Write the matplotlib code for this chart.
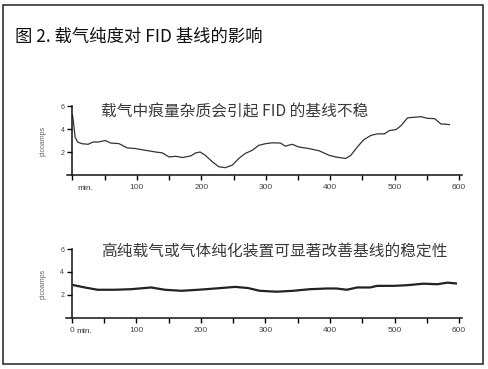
import matplotlib
matplotlib.use("Agg")
import matplotlib.pyplot as plt
from matplotlib.patches import Rectangle

plt.rcParams['font.family'] = ['Noto Sans CJK SC', 'DejaVu Sans']

title = "图 2. 载气纯度对 FID 基线的影响"
note_top = "载气中痕量杂质会引起 FID 的基线不稳"
note_bottom = "高纯载气或气体纯化装置可显著改善基线的稳定性"
y_label = "picoamps"

# top trace: impure carrier gas (min, picoamps)
top_min = [0, 1.5, 4, 8, 14, 24, 32, 40, 51, 59, 72, 85, 98, 113, 129, 139, 150, 160,
           171, 184, 191, 198, 206, 217, 227, 237, 248, 258, 268, 279, 289, 300, 310,
           323, 330, 341, 351, 367, 383, 398, 408, 414, 424, 432, 442, 452, 463, 473,
           484, 492, 502, 510, 520, 530, 541, 551, 562, 572, 577, 585]
top_pa = [5.2, 4.6, 3.3, 2.87, 2.73, 2.67, 2.87, 2.87, 3.0, 2.78, 2.73, 2.36, 2.3, 2.15,
          2.0, 1.93, 1.57, 1.63, 1.52, 1.67, 1.92, 2.0, 1.72, 1.15, 0.72, 0.64, 0.86,
          1.44, 1.87, 2.15, 2.58, 2.73, 2.8, 2.78, 2.51, 2.67, 2.44, 2.3, 2.1, 1.72,
          1.57, 1.52, 1.44, 1.72, 2.44, 3.07, 3.44, 3.58, 3.58, 3.87, 3.95, 4.3, 4.97,
          5.02, 5.07, 4.93, 4.9, 4.43, 4.43, 4.38]

# bottom trace: high purity carrier gas
bot_min = [3, 20, 40, 66, 92, 123, 144, 170, 196, 222, 253, 273, 291, 317, 343, 369,
           395, 410, 426, 442, 462, 473, 499, 520, 545, 566, 582, 595]
bot_pa = [2.85, 2.65, 2.45, 2.45, 2.5, 2.65, 2.45, 2.36, 2.45, 2.56, 2.7, 2.6, 2.36,
          2.28, 2.36, 2.5, 2.56, 2.56, 2.45, 2.65, 2.65, 2.79, 2.79, 2.85, 2.98, 2.93,
          3.07, 3.0]

x_ticks = list(range(0, 601, 50))
y_ticks = [2, 4, 6]

fig = plt.figure(figsize=(4.89, 3.69), dpi=100)
fig.patch.set_facecolor('white')

small = ['Liberation Sans Narrow', 'Liberation Sans', 'DejaVu Sans']


def setup(ax, show_zero):
    ax.set_xlim(-9, 604)
    ax.set_ylim(0, 6)
    for s in ['top', 'right']:
        ax.spines[s].set_visible(False)
    ax.spines['left'].set_position(('data', 0))
    ax.spines['left'].set_bounds(0, 6)
    for s in ['left', 'bottom']:
        ax.spines[s].set_linewidth(1.1)
        ax.spines[s].set_color('#111111')
    ax.set_xticks(x_ticks)
    labels = []
    for t in x_ticks:
        if t % 100 == 0 and (t > 0 or show_zero):
            labels.append(str(t))
        else:
            labels.append('')
    ax.set_xticklabels(labels, fontsize=6, color='#444444', family=small)
    ax.set_yticks(y_ticks)
    ax.set_yticklabels([str(v) for v in y_ticks], fontsize=5, color='#444444', family=small)
    ax.tick_params(axis='x', direction='out', length=3.5, width=1.0, pad=3)
    ax.tick_params(axis='y', direction='out', length=3.5, width=1.0, pad=2)
    ax.text(20, -0.85, "min.", fontsize=6, color='#333333', family=small,
            ha='center', va='top')
    ax.text(-45, 3, y_label, rotation=90, fontsize=5, color='#666666', family=small,
            ha='center', va='center')
    ax.patch.set_alpha(0)


ax1 = fig.add_axes([0.1364, 0.5257, 0.8078, 0.187])
setup(ax1, False)
ax1.plot(top_min, top_pa, color='#333333', lw=0.9)

ax2 = fig.add_axes([0.1350, 0.1385, 0.8092, 0.1867])
setup(ax2, True)
ax2.plot(bot_min, bot_pa, color='#222222', lw=1.6)

fig.text(15 / 489, 1 - 37 / 369, title, fontsize=12.5, color='#111111', weight='medium',
         ha='left', va='center')
fig.text(101 / 489, 1 - 112 / 369, note_top, fontsize=11.3, color='#3a3a3a', ha='left', va='center')
fig.text(101 / 489, 1 - 251.7 / 369, note_bottom, fontsize=11.3, color='#3a3a3a', ha='left', va='center')

fig.patches.append(Rectangle((3.3 / 489, 1 - 364.3 / 369), 480 / 489, 359.6 / 369,
                             transform=fig.transFigure, fill=False, lw=1.1,
                             edgecolor='#222222'))

fig.savefig("out.png", dpi=100)
